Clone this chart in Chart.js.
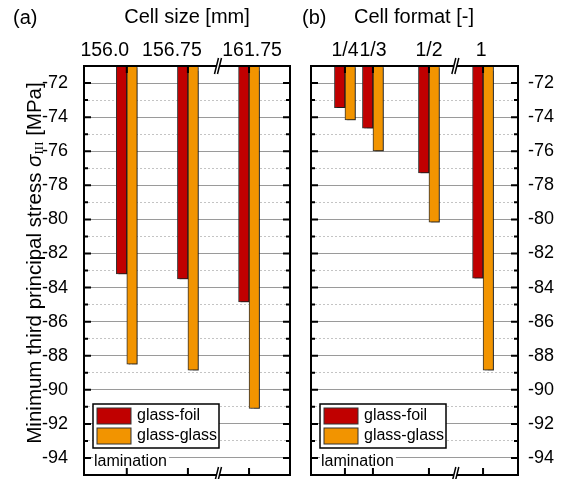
<!DOCTYPE html>
<html>
<head>
<meta charset="utf-8">
<script src="https://cdn.jsdelivr.net/npm/chart.js@4.4.0/dist/chart.umd.min.js"></script>
<style>
    body { margin: 0; background: #fff; }
    #wrap { position: relative; width: 567px; height: 479px; overflow: hidden; }
    canvas { position: absolute; top: 0; }
</style>
</head>
<body>
<div id="wrap">
    <canvas id="chartSize" width="300" height="479" style="left:0"></canvas>
    <canvas id="chartFormat" width="267" height="479" style="left:300px"></canvas>
</div>
<script>
// ----------------- DATA -----------------
const sizeLabels = ["156.0", "156.75", "161.75"];
const sizePos = [1, 2, 3];
const sizeFoil = [-83.2, -83.5, -84.85];
const sizeGlass = [-88.5, -88.85, -91.1];

const formatLabels = ["1/4", "1/3", "1/2", "1"];
// 1/4, 1/3, 1/2 on a linear axis, "1" placed after the axis break
const formatPos = [0.25, 1 / 3, 0.5, 0.661];
const formatFoil = [-73.45, -74.65, -77.27, -83.45];
const formatGlass = [-74.17, -75.98, -80.16, -88.85];

const seriesNames = ["glass-foil", "glass-glass"];
const yMin = -95, yMax = -71;

const FONT = "'Liberation Sans', Arial, sans-serif";
const RED = "#c00000";
const ORANGE = "#f29400";

// ----------------- DECOR PLUGIN -----------------
const decor = {
    id: 'decor',
    beforeDatasetsDraw(chart) {
        const c = chart.ctx;
        c.save();
        c.shadowColor = 'rgba(0,0,0,0.45)';
        c.shadowOffsetX = 2;
        c.shadowOffsetY = 2;
        c.shadowBlur = 1;
    },
    afterDatasetsDraw(chart) {
        chart.ctx.restore();
    },
    afterDraw(chart, args, o) {
        const { ctx, chartArea: a, scales: { x, y } } = chart;
        ctx.save();

        // lamination label
        ctx.font = '16px ' + FONT;
        ctx.textBaseline = 'middle';
        ctx.textAlign = 'left';
        const lw = ctx.measureText('lamination').width;
        const ly = y.getPixelForValue(-94) + 4;
        ctx.fillStyle = '#fff';
        ctx.fillRect(a.left + 9, ly - 9, lw + 3, 18);
        ctx.fillStyle = '#000';
        ctx.fillText('lamination', a.left + 10, ly);

        // legend
        const bx = a.left + 9, by = a.bottom - 71;
        ctx.fillStyle = '#fff';
        ctx.fillRect(bx, by, 126, 44);
        ctx.lineWidth = 1.5;
        ctx.strokeStyle = '#000';
        ctx.strokeRect(bx, by, 126, 44);
        chart.data.datasets.forEach((ds, i) => {
            const sy = by + 4 + i * 20;
            ctx.fillStyle = ds.backgroundColor;
            ctx.fillRect(bx + 4, sy, 34, 16);
            ctx.lineWidth = 1;
            ctx.strokeStyle = '#333';
            ctx.strokeRect(bx + 4, sy, 34, 16);
            ctx.fillStyle = '#000';
            ctx.font = '16px ' + FONT;
            ctx.fillText(ds.label, bx + 44, sy + 8);
        });

        // frame
        ctx.lineWidth = 2;
        ctx.strokeStyle = '#000';
        ctx.strokeRect(a.left, a.top, a.width, a.height);

        // inward ticks
        ctx.beginPath();
        for (let v = yMin + 1; v < yMax; v++) {
            const py = y.getPixelForValue(v);
            const len = v % 2 === 0 ? 7 : 4;
            ctx.moveTo(a.left, py); ctx.lineTo(a.left + len, py);
            ctx.moveTo(a.right, py); ctx.lineTo(a.right - len, py);
        }
        o.pos.forEach(p => {
            const px = x.getPixelForValue(p);
            ctx.moveTo(px, a.top); ctx.lineTo(px, a.top + 7);
            ctx.moveTo(px, a.bottom); ctx.lineTo(px, a.bottom - 7);
        });
        ctx.stroke();

        // axis breaks
        const kx = x.getPixelForValue(o.brk);
        [a.top, a.bottom].forEach(yy => {
            ctx.fillStyle = '#fff';
            ctx.beginPath();
            ctx.moveTo(kx - 4, yy + 8); ctx.lineTo(kx, yy - 8);
            ctx.lineTo(kx + 3, yy - 8); ctx.lineTo(kx - 1, yy + 8);
            ctx.closePath();
            ctx.fill();
            ctx.lineWidth = 1.5;
            ctx.beginPath();
            ctx.moveTo(kx - 4, yy + 8); ctx.lineTo(kx, yy - 8);
            ctx.moveTo(kx - 1, yy + 8); ctx.lineTo(kx + 3, yy - 8);
            ctx.stroke();
        });

        // top category labels
        ctx.fillStyle = '#000';
        ctx.font = '19.5px ' + FONT;
        ctx.textAlign = 'center';
        o.labels.forEach((t, i) => {
            ctx.fillText(t, x.getPixelForValue(o.pos[i]) + o.shift[i], 51);
        });

        // titles
        ctx.font = '20px ' + FONT;
        ctx.textAlign = 'left';
        ctx.fillText(o.tag, o.tagX, 18);
        ctx.textAlign = 'center';
        ctx.fillText(o.title, o.titleX, 17);

        // y title
        if (o.yTitle) {
            ctx.translate(35, 263);
            ctx.rotate(-Math.PI / 2);
            const parts = [
                { t: 'Minimum third principal stress ', f: '20.5px ' + FONT, dy: 0 },
                { t: 'σ', f: 'italic 20.5px ' + FONT, dy: 0 },
                { t: 'III', f: '13px "Liberation Serif", serif', dy: 5 },
                { t: ' [MPa]', f: '20.5px ' + FONT, dy: 0 }
            ];
            let total = 0;
            parts.forEach(p => { ctx.font = p.f; p.w = ctx.measureText(p.t).width; total += p.w; });
            let cx = -total / 2;
            ctx.textAlign = 'left';
            parts.forEach(p => {
                ctx.font = p.f;
                ctx.fillText(p.t, cx, p.dy);
                cx += p.w;
            });
        }
        ctx.restore();
    }
};

// ----------------- CHART BUILDER -----------------
const criarChart = (id, pos, foil, glass, cfg) => {
    const mk = (vals, i, color) => ({
        label: seriesNames[i],
        data: pos.map((p, k) => ({ x: p, y: vals[k] })),
        backgroundColor: color,
        borderColor: '#333',
        borderWidth: 1,
        borderSkipped: false,
        barThickness: 10.5,
        base: yMax
    });
    const noPad = s => { s.paddingTop = 0; s.paddingBottom = 0; };
    return new Chart(document.getElementById(id), {
        type: 'bar',
        data: { datasets: [mk(foil, 0, RED), mk(glass, 1, ORANGE)] },
        options: {
            responsive: false,
            animation: false,
            layout: { autoPadding: false, padding: cfg.padding },
            plugins: {
                legend: { display: false },
                tooltip: { enabled: false },
                decor: cfg
            },
            scales: {
                x: { type: 'linear', display: false, offset: false, min: cfg.xMin, max: cfg.xMax },
                y: {
                    position: cfg.yPos,
                    min: yMin, max: yMax,
                    afterBuildTicks: s => { s.ticks = s.ticks.filter(t => t.value % 2 === 0 && t.value > yMin && t.value < yMax); },
                    ticks: { stepSize: 1, color: '#000', font: { family: FONT, size: 18 }, padding: cfg.tickPad },
                    grid: { color: '#9a9a9a', lineWidth: 1, drawTicks: false },
                    border: { display: false },
                    afterFit: s => { s.width = cfg.yWidth; noPad(s); }
                },
                y2: {
                    position: cfg.yPos,
                    min: yMin, max: yMax,
                    afterBuildTicks: s => { s.ticks = s.ticks.filter(t => Math.abs(t.value % 2) === 1); },
                    ticks: { stepSize: 1, display: false },
                    grid: { color: '#c4c4c4', lineWidth: 1, drawTicks: false },
                    border: { display: false, dash: [2, 2] },
                    afterFit: s => { s.width = 0; noPad(s); }
                }
            }
        },
        plugins: [decor]
    });
};

criarChart("chartSize", sizePos, sizeFoil, sizeGlass, {
    labels: sizeLabels, pos: sizePos, shift: [-22, -16, 3], brk: 2.5,
    xMin: 0.3, xMax: 3.67,
    padding: { left: 0, right: 10, top: 66, bottom: 4 },
    yPos: 'left', yWidth: 84, tickPad: 16,
    tag: '(a)', tagX: 13, title: 'Cell size [mm]', titleX: 187, yTitle: true
});

criarChart("chartFormat", formatPos, formatFoil, formatGlass, {
    labels: formatLabels, pos: formatPos, shift: [0, 0, 0, -2], brk: 0.58,
    xMin: 0.149, xMax: 0.765,
    padding: { left: 11, right: 0, top: 66, bottom: 4 },
    yPos: 'right', yWidth: 49, tickPad: 10,
    tag: '(b)', tagX: 2, title: 'Cell format [-]', titleX: 114, yTitle: false
});
</script>
</body>
</html>
